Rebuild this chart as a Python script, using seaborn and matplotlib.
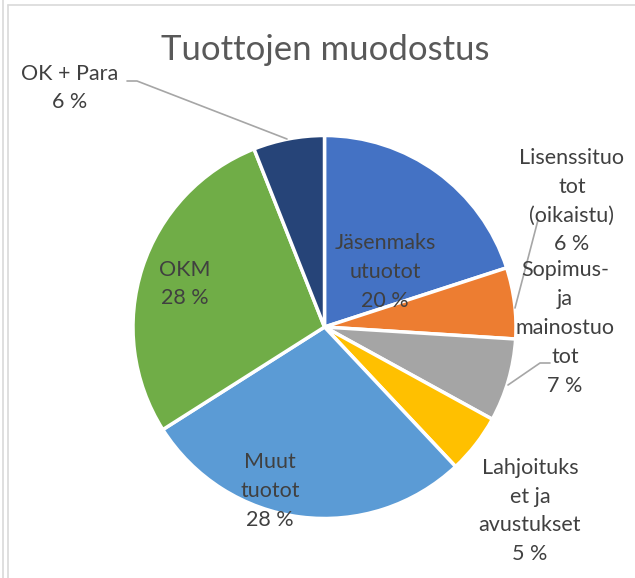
import matplotlib
matplotlib.use("Agg")
import matplotlib.pyplot as plt
import seaborn as sns
from matplotlib.lines import Line2D

sns.set_theme(style="white")
plt.rcParams['font.family'] = ['Lato', 'DejaVu Sans']

# Data
categories = ["Jäsenmaksutuotot", "Lisenssituotot (oikaistu)", "Sopimus- ja mainostuotot",
              "Lahjoitukset ja avustukset", "Muut tuotot", "OKM", "OK + Para"]
values = [20, 6, 7, 5, 28, 28, 6]
label_texts = ["Jäsenmaks\nutuotot\n20 %", "Lisenssituo\ntot\n(oikaistu)\n6 %",
               "Sopimus-\nja\nmainostuo\ntot\n7 %", "Lahjoituks\net ja\navustukset\n5 %",
               "Muut\ntuotot\n28 %", "OKM\n28 %", "OK + Para\n6 %"]
colors = ["#4472C4", "#ED7D31", "#A5A5A5", "#FFC000", "#5B9BD5", "#70AD47", "#264478"]

W, H = 635, 578
CX, CY, R = 324.5, 327.0, 191.5

fig = plt.figure(figsize=(W / 100, H / 100), dpi=100)
ax = fig.add_axes([0, 0, 1, 1])

def p2d(px, py):
    return (px - CX) / R, (CY - py) / R

ax.pie(values, colors=colors, startangle=90, counterclock=False, radius=1.0,
       center=(0, 0), wedgeprops=dict(edgecolor="white", linewidth=2.5), frame=True)
ax.axis('off')
ax.set_xlim(-CX / R, (W - CX) / R)
ax.set_ylim(-(H - CY) / R, CY / R)
ax.set_aspect('equal')

txt_color = "#404040"
label_pos = [(385, 272), (572, 201), (565, 328), (530, 511), (270, 491), (185, 284), (70, 88)]
for t, (px, py) in zip(label_texts, label_pos):
    x, y = p2d(px, py)
    ax.text(x, y, t, ha="center", va="center", fontsize=15.5, color=txt_color,
            linespacing=1.55)

# leader lines
leaders = [
    [(127, 81), (137, 81), (287, 139)],
    [(538, 220), (515, 308)],
    [(550, 363), (540, 363), (508, 385)],
]
for pts in leaders:
    xs, ys = zip(*[p2d(a, b) for a, b in pts])
    ax.plot(xs, ys, color="#A6A6A6", linewidth=1.2)

x, y = p2d(325, 50)
ax.text(x, y, "Tuottojen muodostus", ha="center", va="center", fontsize=25, color="#595959")

# chart frame
fig.add_artist(Line2D([2.5 / W, 2.5 / W], [0, 1], color="#D9D9D9", linewidth=1.2))
fig.add_artist(Line2D([7.5 / W, 7.5 / W], [0, 1 - 4.5 / H], color="#D9D9D9", linewidth=1.2))
fig.add_artist(Line2D([7.5 / W, 1], [1 - 4.5 / H, 1 - 4.5 / H], color="#D9D9D9", linewidth=1.2))

fig.savefig("out.png", dpi=100, facecolor="white")
